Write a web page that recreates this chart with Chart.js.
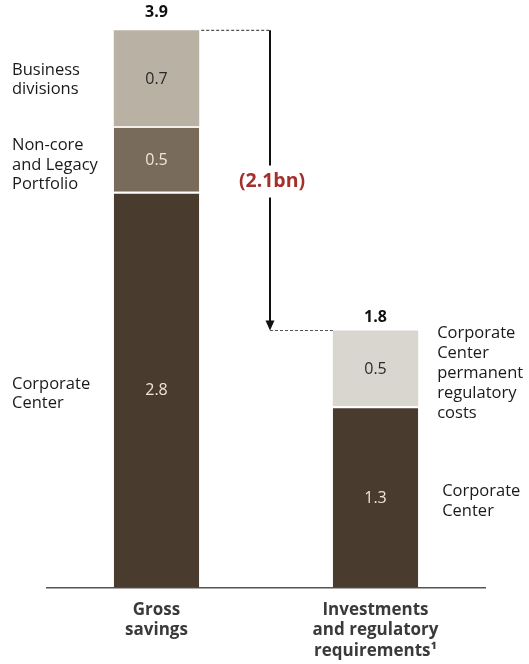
<!DOCTYPE html>
<html>
<head>
<meta charset="utf-8">
<script src="https://cdn.jsdelivr.net/npm/chart.js@4/dist/chart.umd.min.js"></script>
<style>
html,body{margin:0;padding:0;background:#fff;}
#wrap{width:529px;height:664px;position:relative;}
</style>
</head>
<body>
<div id="wrap"><canvas id="c" width="529" height="664"></canvas></div>
<script>
const categories = [["Gross", "savings"], ["Investments", "and regulatory", "requirements\u00b9"]];
// segment values (labels show them rounded to one decimal)
const corporateCenter = [2.77, 1.27];
const nonCoreLegacy = [0.46, null];
const businessDivisions = [0.67, null];
const ccPermanentRegulatory = [null, 0.53];
const totals = [3.9, 1.8];
const reductionLabel = "(2.1bn)";
const leftLabels = [
  {ds: 2, lines: ["Business", "divisions"]},
  {ds: 1, lines: ["Non-core", "and Legacy", "Portfolio"]},
  {ds: 0, lines: ["Corporate", "Center"]}
];
const rightLabels = [
  {ds: 3, lines: ["Corporate", "Center", "permanent", "regulatory", "costs"]},
  {ds: 0, lines: ["Corporate", "Center"]}
];

const FONT = "'Open Sans', 'Noto Sans', sans-serif";
const segTextColors = ["#efe6da", "#efe6da", "#2a2a2a", "#2a2a2a"];
const leftNudge = [2, 6, 4];
const rightNudge = [5, 4];
const rightGap = [19, 24];
const totalLift = [13, 8];

const annot = {
  id: 'annot',
  afterDatasetsDraw(chart) {
    const ctx = chart.ctx;
    const xs = chart.scales.x, ys = chart.scales.y;
    ctx.save();
    // segment value labels
    chart.data.datasets.forEach((ds, di) => {
      const meta = chart.getDatasetMeta(di);
      meta.data.forEach((bar, i) => {
        const v = ds.data[i];
        if (v == null) return;
        const midY = (bar.y + bar.base) / 2;
        ctx.fillStyle = segTextColors[di];
        ctx.font = "16px " + FONT;
        ctx.textAlign = "center";
        ctx.textBaseline = "middle";
        ctx.fillText(v.toFixed(1), bar.x, midY + 1);
      });
    });
    // totals
    const m0 = chart.getDatasetMeta(0);
    totals.forEach((t, i) => {
      ctx.fillStyle = "#111";
      ctx.font = "bold 16px " + FONT;
      ctx.textAlign = "center";
      ctx.textBaseline = "alphabetic";
      ctx.fillText(t.toFixed(1), m0.data[i].x, ys.getPixelForValue(t) - totalLift[i]);
    });
    // side labels
    const drawLines = (lines, x, cy, align, lh) => {
      ctx.font = "16.5px " + FONT;
      ctx.fillStyle = "#1a1a1a";
      ctx.textAlign = align;
      ctx.textBaseline = "middle";
      const start = cy - (lines.length - 1) * lh / 2;
      lines.forEach((l, k) => ctx.fillText(l, x, start + k * lh));
    };
    leftLabels.forEach((L, k) => {
      const bar = chart.getDatasetMeta(L.ds).data[0];
      drawLines(L.lines, 12, (bar.y + bar.base) / 2 + leftNudge[k], "left", 19.2);
    });
    rightLabels.forEach((L, k) => {
      const bar = chart.getDatasetMeta(L.ds).data[1];
      drawLines(L.lines, bar.x + bar.width / 2 + rightGap[k], (bar.y + bar.base) / 2 + rightNudge[k], "left", 20.2);
    });
    // bridge annotation
    const b0 = m0.data[0], b1 = m0.data[1];
    const ax = xs.getPixelForValue(0.5) + 4;
    const yTop = ys.getPixelForValue(totals[0]);
    const yBot = ys.getPixelForValue(totals[1]);
    ctx.strokeStyle = "#555";
    ctx.lineWidth = 1.2;
    ctx.setLineDash([3, 2]);
    ctx.beginPath();
    ctx.moveTo(b0.x + b0.width / 2 + 2, yTop); ctx.lineTo(ax, yTop);
    ctx.moveTo(ax, yBot); ctx.lineTo(b1.x - b1.width / 2, yBot);
    ctx.stroke();
    ctx.setLineDash([]);
    const midY = (yTop + yBot) / 2 + 1;
    ctx.strokeStyle = "#111";
    ctx.lineWidth = 2;
    ctx.beginPath();
    ctx.moveTo(ax, yTop); ctx.lineTo(ax, midY - 16);
    ctx.moveTo(ax, midY + 16); ctx.lineTo(ax, yBot - 8);
    ctx.stroke();
    ctx.fillStyle = "#111";
    ctx.beginPath();
    ctx.moveTo(ax - 4.5, yBot - 10); ctx.lineTo(ax + 4.5, yBot - 10); ctx.lineTo(ax, yBot); ctx.closePath();
    ctx.fill();
    ctx.fillStyle = "#a3302b";
    ctx.font = "bold 19.5px " + FONT;
    ctx.textAlign = "center";
    ctx.textBaseline = "middle";
    ctx.fillText(reductionLabel, ax + 2, midY);
    ctx.restore();
  }
};

const sep = {top: 2, left: 0, right: 0, bottom: 0};
new Chart(document.getElementById('c'), {
  type: 'bar',
  data: {
    labels: categories,
    datasets: [
      {label: "Corporate Center", data: corporateCenter, backgroundColor: "#4a3b2f", borderColor: "#ffffff", borderWidth: sep, borderSkipped: false},
      {label: "Non-core and Legacy Portfolio", data: nonCoreLegacy, backgroundColor: "#786b5c", borderColor: "#f2efe9", borderWidth: sep, borderSkipped: false},
      {label: "Business divisions", data: businessDivisions, backgroundColor: "#b9b1a3", borderColor: "#ffffff", borderWidth: 0},
      {label: "Corporate Center permanent regulatory costs", data: ccPermanentRegulatory, backgroundColor: "#d9d6d0", borderColor: "#ffffff", borderWidth: 0}
    ]
  },
  options: {
    responsive: false,
    animation: false,
    events: [],
    layout: {padding: {left: 47, right: 44, top: 16, bottom: -9}},
    plugins: {legend: {display: false}, tooltip: {enabled: false}},
    datasets: {bar: {categoryPercentage: 1, barPercentage: 0.39}},
    scales: {
      x: {
        stacked: true,
        grid: {display: false, drawTicks: false},
        border: {display: true, color: "#555", width: 1.5},
        ticks: {
          color: "#3a3a3a",
          padding: 12,
          font: {family: FONT, size: 17, weight: 'bold', lineHeight: 1.2},
          maxRotation: 0, autoSkip: false
        }
      },
      y: {stacked: true, display: false, min: 0, max: 4}
    }
  },
  plugins: [annot]
});
</script>
</body>
</html>
